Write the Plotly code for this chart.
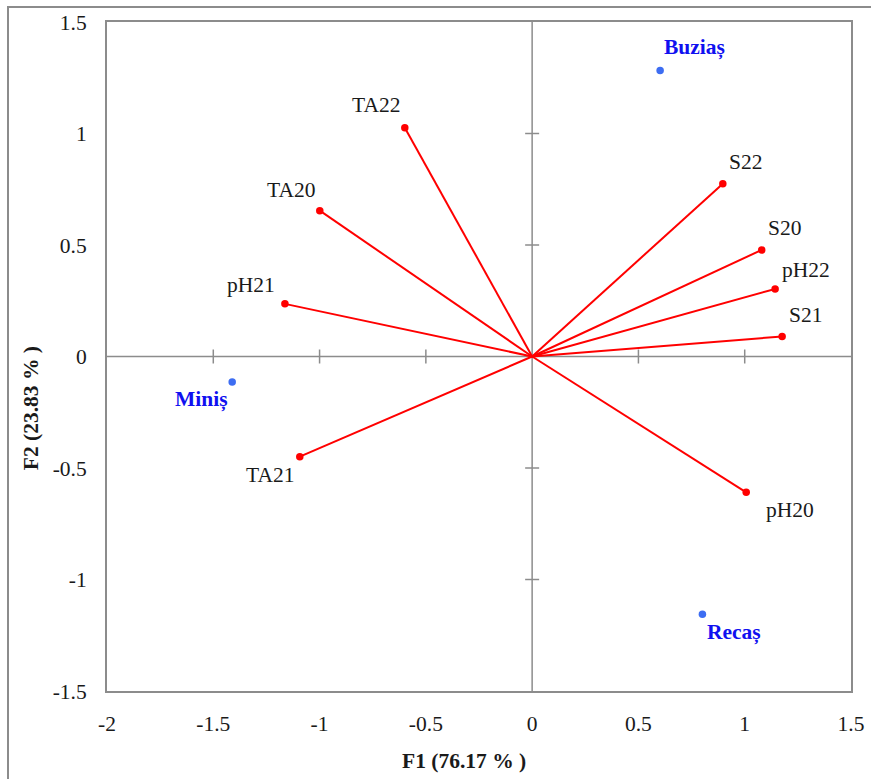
import plotly.graph_objects as go

# Variables (loadings)
var_names = ["TA22", "TA20", "pH21", "TA21", "S22", "S20", "pH22", "S21", "pH20"]
var_f1 = [-0.599, -0.999, -1.163, -1.093, 0.897, 1.080, 1.143, 1.176, 1.007]
var_f2 = [1.026, 0.654, 0.236, -0.449, 0.775, 0.478, 0.303, 0.090, -0.609]

# Observations
obs_names = ["Buziaș", "Miniș", "Recaș"]
obs_f1 = [0.602, -1.411, 0.801]
obs_f2 = [1.283, -0.114, -1.156]

tick_vals_x = [-2, -1.5, -1, -0.5, 0, 0.5, 1, 1.5]
tick_vals_y = [-1.5, -1, -0.5, 0, 0.5, 1, 1.5]

x_title = "F1 (76.17 % )"
y_title = "F2 (23.83 % )"

FONT = "'Liberation Serif', 'Times New Roman', Times, serif"
FS = 21.5
GRAY = "#8c8c8c"
var_shift = {"TA22": (-29, 23), "TA20": (-29, 21), "pH21": (-34, 19), "TA21": (-30, -18),
             "S22": (23, 22), "S20": (23, 22), "pH22": (31, 19), "S21": (23, 21), "pH20": (44, -18)}
obs_shift = {"Buziaș": (34, 23), "Miniș": (-31, -18), "Recaș": (32, -18)}

fig = go.Figure()

# zero axes
fig.add_shape(type="line", x0=tick_vals_x[0], x1=tick_vals_x[-1], y0=0, y1=0,
              line=dict(color=GRAY, width=1.5), layer="below")
fig.add_shape(type="line", x0=0, x1=0, y0=tick_vals_y[0], y1=tick_vals_y[-1],
              line=dict(color=GRAY, width=1.5), layer="below")
# cross tick marks on zero axes
xt = [v for v in tick_vals_x if v not in (0, tick_vals_x[0], tick_vals_x[-1])]
yt = [v for v in tick_vals_y if v not in (0, tick_vals_y[0], tick_vals_y[-1])]
fig.add_trace(go.Scatter(x=xt, y=[0] * len(xt), mode="markers",
                         marker=dict(symbol="line-ns-open", size=10, color=GRAY,
                                     line=dict(color=GRAY, width=1.5)),
                         hoverinfo="skip", showlegend=False))
fig.add_trace(go.Scatter(x=[0] * len(yt), y=yt, mode="markers",
                         marker=dict(symbol="line-ew-open", size=10, color=GRAY,
                                     line=dict(color=GRAY, width=1.5)),
                         hoverinfo="skip", showlegend=False))

for n, x, y in zip(var_names, var_f1, var_f2):
    fig.add_trace(go.Scatter(x=[0, x], y=[0, y], mode="lines",
                             line=dict(color="#ff0000", width=2), showlegend=False))
fig.add_trace(go.Scatter(x=var_f1, y=var_f2, mode="markers",
                         marker=dict(color="#ff0000", size=7.5), showlegend=False))
fig.add_trace(go.Scatter(x=obs_f1, y=obs_f2, mode="markers",
                         marker=dict(color="#3d6df2", size=7.5), showlegend=False))

anns = []
for n, x, y in zip(var_names, var_f1, var_f2):
    dx, dy = var_shift[n]
    anns.append(dict(x=x, y=y, text=n, showarrow=False, xshift=dx, yshift=dy,
                     xanchor="center", yanchor="middle",
                     font=dict(family=FONT, size=FS, color="#1a1a1a")))
for n, x, y in zip(obs_names, obs_f1, obs_f2):
    dx, dy = obs_shift[n]
    anns.append(dict(x=x, y=y, text="<b>" + n + "</b>", showarrow=False, xshift=dx, yshift=dy,
                     xanchor="center", yanchor="middle",
                     font=dict(family=FONT, size=FS, color="#1010f0")))
# axis titles
W, H = 871, 779
L, R, T, B = 107, 20, 22, 88
pw, ph = W - L - R, H - T - B
anns.append(dict(xref="paper", yref="paper", x=(463.7 - L) / pw, y=1 - (761 - T) / ph,
                 text="<b>" + x_title + "</b>", showarrow=False,
                 xanchor="center", yanchor="middle",
                 font=dict(family=FONT, size=FS, color="#1a1a1a")))
anns.append(dict(xref="paper", yref="paper", x=(30.7 - L) / pw, y=1 - (408.5 - T) / ph,
                 text="<b>" + y_title + "</b>", showarrow=False, textangle=-90,
                 xanchor="center", yanchor="middle",
                 font=dict(family=FONT, size=FS, color="#1a1a1a")))

# outer frame
fig.add_shape(type="rect", xref="paper", yref="paper",
              x0=(8 - L) / pw, x1=(W + 10 - L) / pw,
              y0=1 - (H + 10 - T) / ph, y1=1 - (7 - T) / ph,
              line=dict(color=GRAY, width=2), layer="below")

fig.update_layout(
    width=W, height=H, autosize=False,
    margin=dict(l=L, r=R, t=T, b=B, autoexpand=False),
    paper_bgcolor="white", plot_bgcolor="white",
    font=dict(family=FONT, size=FS, color="#1a1a1a"),
    annotations=anns,
    xaxis=dict(range=[tick_vals_x[0], tick_vals_x[-1]], tickvals=tick_vals_x,
               ticktext=[f"{v:g}" for v in tick_vals_x], automargin=False,
               showgrid=False, zeroline=False, showline=True, mirror=True,
               linecolor=GRAY, linewidth=2, ticks="", ticklabelstandoff=12),
    yaxis=dict(range=[tick_vals_y[0], tick_vals_y[-1]], tickvals=tick_vals_y,
               ticktext=[f"{v:g}" for v in tick_vals_y], automargin=False,
               showgrid=False, zeroline=False, showline=True, mirror=True,
               linecolor=GRAY, linewidth=2, ticks="", ticklabelstandoff=14),
)

fig.write_html("out.html")
